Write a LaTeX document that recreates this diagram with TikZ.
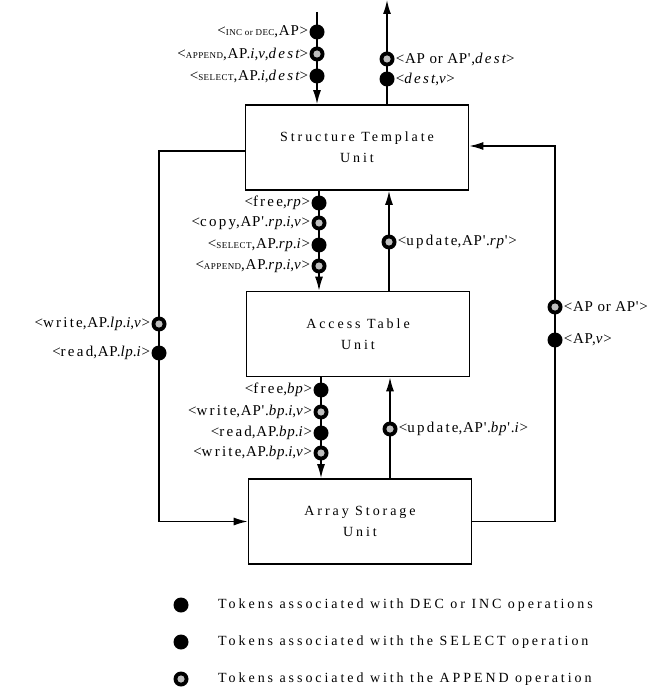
\documentclass[tikz,border=0pt]{standalone}
\usepackage{fontspec}
\setmainfont{Liberation Serif}
\newfontfamily\spaced[LetterSpace=21]{Liberation Serif}
\newfontfamily\lblfont[LetterSpace=5]{Liberation Serif}
\newfontfamily\wfont[LetterSpace=15]{Liberation Serif}
\usetikzlibrary{arrows.meta}
\newcommand{\smc}[1]{{\fontsize{9}{9}\selectfont #1}}
\newcommand{\wrd}[1]{{\wfont #1}}
\newcommand{\wit}[1]{{\wfont\itshape #1}}
\tikzset{
  unit/.style={draw, line width=1.6pt, minimum width=223pt, minimum height=85pt, inner sep=0pt, align=center, font=\spaced\fontsize{14}{21}\selectfont},
  arr/.style={line width=1.5pt, -{Latex[length=14pt,width=8pt]}},
  blk/.style={circle, fill=black, minimum size=15pt, inner sep=0pt},
  app/.style={circle, fill=black, minimum size=15pt, inner sep=0pt,
     path picture={\fill[gray!50] (path picture bounding box.center) circle (3.6pt);}},
  lbl/.style={inner sep=1pt, font=\lblfont\fontsize{15}{16}\selectfont},
  leg/.style={inner sep=0pt, anchor=west, font=\spaced\fontsize{14}{16}\selectfont}
}
\begin{document}
\begin{tikzpicture}[x=1pt,y=-1pt]
\useasboundingbox (0,0) rectangle (668,692);

% units
\node[unit] (st) at (357,147.5) {Structure Template\\Unit};
\node[unit] (at) at (358,334) {Access Table\\Unit};
\node[unit] (as) at (360,521.5) {Array Storage\\Unit};

% coordinates for vertical connectors
\coordinate (cin) at (317,12);
\coordinate (cout) at (387,0);
\coordinate (c1) at (319,0);
\coordinate (c2) at (389,0);
\coordinate (c3) at (321,0);
\coordinate (c4) at (390,0);
\coordinate (lA) at (159,151);
\coordinate (rA) at (555,146);

% connectors
\draw[arr] (cin) -- (cin |- st.north);
\draw[arr] (cout |- st.north) -- (cout);
\draw[arr] (st.south -| c1) -- (at.north -| c1);
\draw[arr] (at.north -| c2) -- (st.south -| c2);
\draw[arr] (at.south -| c3) -- (as.north -| c3);
\draw[arr] (as.north -| c4) -- (at.south -| c4);
\draw[arr] (st.west |- lA) -- (lA) |- (as.west);
\draw[arr] (as.east) -| (rA) -- (st.east |- rA);

% input tokens
\node[blk] (i1) at (317,32) {};
\node[app] (i2) at (317,54) {};
\node[blk] (i3) at (317,76) {};
\node[lbl, anchor=east] (li1) at (i1.west) {<\smc{INC or DEC},AP>};
\node[lbl, anchor=east] (li2) at (i2.west) {<\smc{APPEND},AP.\textit{i},\textit{v},\wit{dest}>};
\node[lbl, anchor=east] (li3) at (i3.west) {<\smc{SELECT},AP.\textit{i},\wit{dest}>};

% output tokens
\node[app] (o1) at (387,59) {};
\node[blk] (o2) at (387,79) {};
\node[lbl, anchor=west] (lo1) at (o1.east) {<AP or AP',\wit{dest}>};
\node[lbl, anchor=west] (lo2) at (o2.east) {<\wit{dest},\textit{v}>};

% structure -> access
\node[blk] (s1) at (319,203) {};
\node[app] (s2) at (319,223) {};
\node[blk] (s3) at (319,245) {};
\node[app] (s4) at (319,266) {};
\node[lbl, anchor=east] (ls1) at (s1.west) {<\wrd{free},\textit{rp}>};
\node[lbl, anchor=east] (ls2) at (s2.west) {<\wrd{copy},AP'.\textit{rp}.\textit{i},\textit{v}>};
\node[lbl, anchor=east] (ls3) at (s3.west) {<\smc{SELECT},AP.\textit{rp}.\textit{i}>};
\node[lbl, anchor=east] (ls4) at (s4.west) {<\smc{APPEND},AP.\textit{rp}.\textit{i},\textit{v}>};

\node[app] (u1) at (389,242) {};
\node[lbl, anchor=west] (lu1) at (u1.east) {<\wrd{update},AP'.\textit{rp}'>};

% access -> array
\node[blk] (a1) at (321,390) {};
\node[app] (a2) at (321,412) {};
\node[blk] (a3) at (321,433) {};
\node[app] (a4) at (321,453) {};
\node[lbl, anchor=east] (la1) at (a1.west) {<\wrd{free},\textit{bp}>};
\node[lbl, anchor=east] (la2) at (a2.west) {<\wrd{write},AP'.\textit{bp}.\textit{i},\textit{v}>};
\node[lbl, anchor=east] (la3) at (a3.west) {<\wrd{read},AP.\textit{bp}.\textit{i}>};
\node[lbl, anchor=east] (la4) at (a4.west) {<\wrd{write},AP.\textit{bp}.\textit{i},\textit{v}>};

\node[app] (u2) at (390,429) {};
\node[lbl, anchor=west] (lu2) at (u2.east) {<\wrd{update},AP'.\textit{bp}'.\textit{i}>};

% left loop
\node[app] (l1) at (159,324) {};
\node[blk] (l2) at (159,353) {};
\node[lbl, anchor=east] (ll1) at (l1.west) {<\wrd{write},AP.\textit{lp}.\textit{i},\textit{v}>};
\node[lbl, anchor=east] (ll2) at (l2.west) {<\wrd{read},AP.\textit{lp}.\textit{i}>};

% right loop
\node[app] (r1) at (555,307) {};
\node[blk] (r2) at (555,340) {};
\node[lbl, anchor=west] (lr1) at (r1.east) {<AP or AP'>};
\node[lbl, anchor=west] (lr2) at (r2.east) {<AP,\textit{v}>};

% legend
\node[blk] (g1) at (181,605) {};
\node[blk] (g2) at (181,642) {};
\node[app] (g3) at (181,679) {};
\node[leg] (lg1) at (218,605) {Tokens associated with DEC or INC operations};
\node[leg] (lg2) at (218,642) {Tokens associated with the SELECT operation};
\node[leg] (lg3) at (218,679) {Tokens associated with the APPEND operation};
\end{tikzpicture}
\end{document}
